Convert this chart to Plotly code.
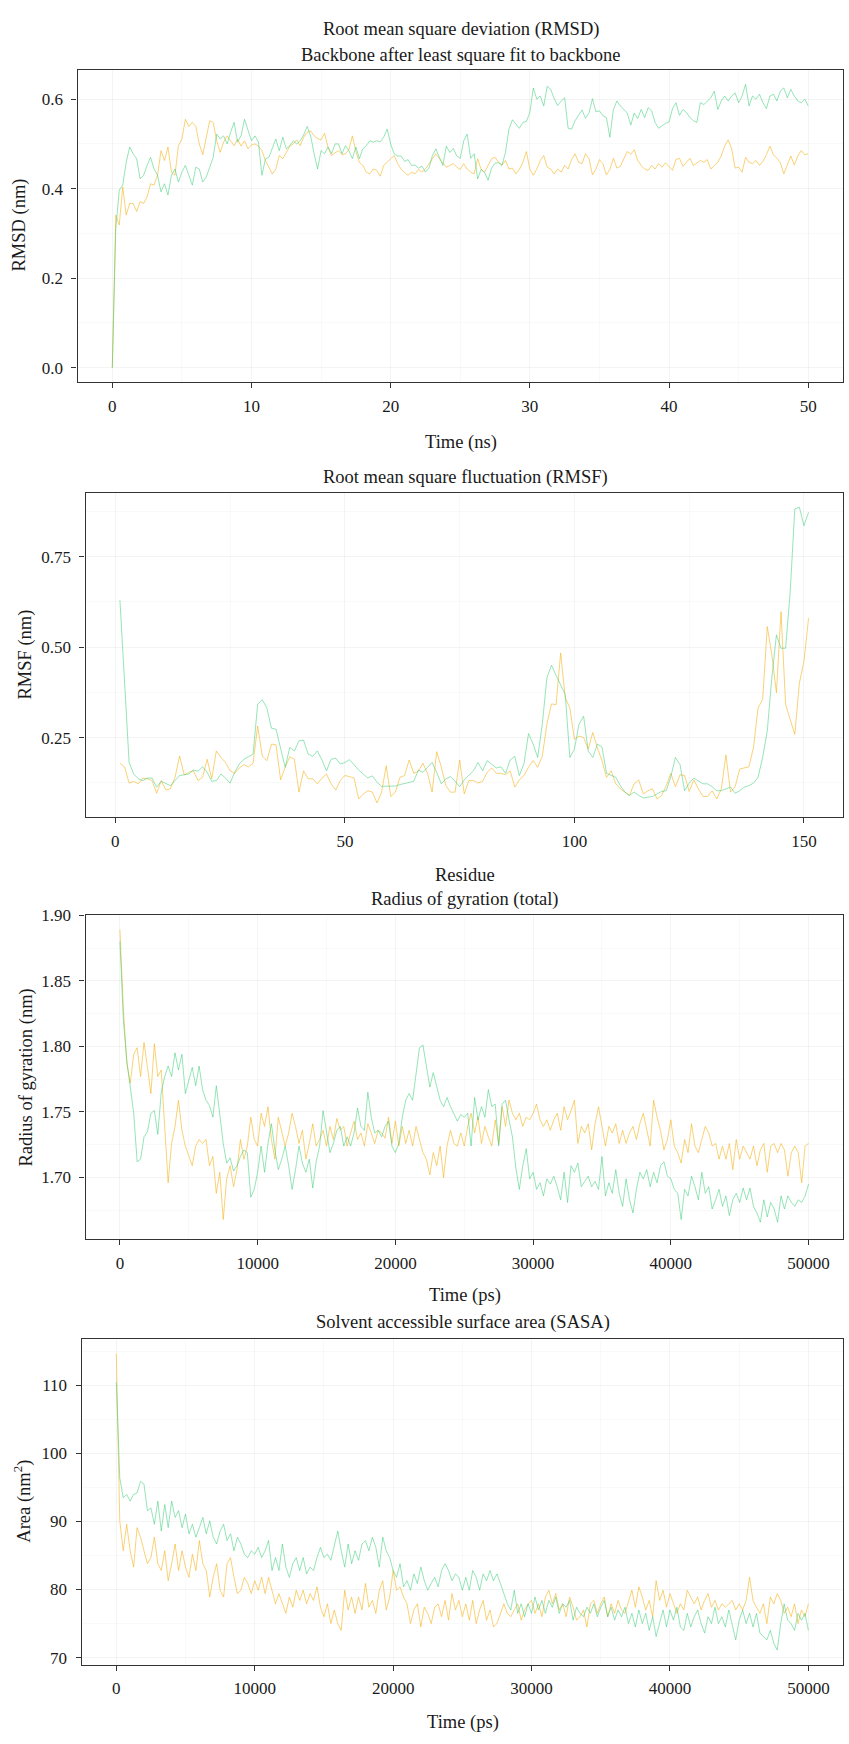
import numpy as np
import plotly.graph_objects as go

W, H = 849, 1744
FONT = "Liberation Serif"
TEXT_COLOR = "#1a1a1a"
FRAME = "#333333"
GREEN = "rgba(46,204,113,0.50)"
ORANGE = "rgba(245,180,30,0.60)"
GRID_MAJOR = "rgba(0,0,0,0.045)"
GRID_MINOR = "rgba(0,0,0,0.025)"

# ---------------------------------------------------------------- data
# sampling: every 0.25 ns (250 ps) over 50 ns
time_ns = np.arange(201) * 0.25
time_ps = np.arange(201) * 250
residue = np.arange(1, 152)

rmsd_green = [
    0.000, 0.310, 0.397, 0.408, 0.459, 0.493, 0.478, 0.467, 0.422, 0.430,
    0.452, 0.470, 0.444, 0.430, 0.393, 0.411, 0.386, 0.430, 0.444, 0.415,
    0.437, 0.452, 0.430, 0.408, 0.448, 0.444, 0.415, 0.426, 0.448, 0.470,
    0.522, 0.511, 0.518, 0.500, 0.526, 0.548, 0.504, 0.518, 0.555, 0.529,
    0.507, 0.518, 0.504, 0.430, 0.466, 0.470, 0.493, 0.511, 0.485, 0.515,
    0.489, 0.496, 0.507, 0.500, 0.507, 0.520, 0.539, 0.518, 0.478, 0.444,
    0.485, 0.478, 0.493, 0.478, 0.500, 0.500, 0.478, 0.496, 0.485, 0.467,
    0.493, 0.467, 0.489, 0.496, 0.507, 0.504, 0.507, 0.505, 0.515, 0.533,
    0.500, 0.478, 0.473, 0.473, 0.461, 0.465, 0.452, 0.453, 0.446, 0.450,
    0.437, 0.446, 0.474, 0.489, 0.470, 0.452, 0.495, 0.481, 0.490, 0.473,
    0.468, 0.507, 0.522, 0.468, 0.478, 0.422, 0.443, 0.436, 0.419, 0.446,
    0.457, 0.458, 0.452, 0.481, 0.533, 0.554, 0.544, 0.535, 0.548, 0.550,
    0.570, 0.625, 0.600, 0.607, 0.585, 0.629, 0.622, 0.601, 0.586, 0.596,
    0.603, 0.535, 0.533, 0.552, 0.564, 0.576, 0.557, 0.569, 0.601, 0.572,
    0.574, 0.563, 0.559, 0.515, 0.576, 0.596, 0.585, 0.576, 0.569, 0.542,
    0.569, 0.557, 0.577, 0.559, 0.581, 0.574, 0.548, 0.535, 0.541, 0.546,
    0.549, 0.579, 0.592, 0.564, 0.577, 0.570, 0.559, 0.552, 0.548, 0.592,
    0.588, 0.596, 0.603, 0.618, 0.577, 0.596, 0.607, 0.596, 0.607, 0.614,
    0.592, 0.607, 0.633, 0.585, 0.607, 0.600, 0.611, 0.592, 0.579, 0.607,
    0.611, 0.596, 0.618, 0.625, 0.603, 0.622, 0.607, 0.596, 0.592, 0.600,
    0.585,
]
rmsd_orange = [
    0.000, 0.341, 0.319, 0.404, 0.341, 0.367, 0.367, 0.349, 0.371, 0.367,
    0.382, 0.411, 0.408, 0.430, 0.485, 0.463, 0.493, 0.437, 0.430, 0.496,
    0.511, 0.555, 0.539, 0.548, 0.539, 0.500, 0.476, 0.511, 0.552, 0.548,
    0.507, 0.481, 0.504, 0.518, 0.507, 0.496, 0.511, 0.495, 0.507, 0.489,
    0.498, 0.500, 0.495, 0.485, 0.463, 0.448, 0.433, 0.444, 0.474, 0.467,
    0.481, 0.495, 0.500, 0.509, 0.496, 0.515, 0.526, 0.529, 0.518, 0.512,
    0.509, 0.524, 0.493, 0.474, 0.480, 0.485, 0.476, 0.478, 0.487, 0.518,
    0.483, 0.459, 0.452, 0.437, 0.433, 0.444, 0.441, 0.428, 0.452, 0.459,
    0.467, 0.474, 0.456, 0.444, 0.436, 0.430, 0.437, 0.433, 0.443, 0.437,
    0.444, 0.456, 0.467, 0.478, 0.467, 0.458, 0.448, 0.452, 0.456, 0.448,
    0.443, 0.456, 0.444, 0.437, 0.433, 0.467, 0.443, 0.437, 0.453, 0.467,
    0.470, 0.459, 0.453, 0.463, 0.444, 0.446, 0.433, 0.443, 0.459, 0.483,
    0.444, 0.430, 0.444, 0.463, 0.474, 0.448, 0.444, 0.433, 0.444, 0.437,
    0.452, 0.444, 0.465, 0.478, 0.459, 0.456, 0.478, 0.467, 0.431, 0.444,
    0.465, 0.456, 0.431, 0.443, 0.468, 0.446, 0.450, 0.465, 0.483, 0.477,
    0.487, 0.463, 0.452, 0.444, 0.441, 0.452, 0.444, 0.456, 0.448, 0.458,
    0.450, 0.441, 0.465, 0.468, 0.450, 0.459, 0.468, 0.452, 0.458, 0.463,
    0.459, 0.465, 0.444, 0.452, 0.459, 0.473, 0.495, 0.509, 0.489, 0.446,
    0.448, 0.437, 0.470, 0.459, 0.456, 0.463, 0.452, 0.461, 0.476, 0.495,
    0.476, 0.468, 0.458, 0.433, 0.452, 0.473, 0.453, 0.473, 0.485, 0.476,
    0.478,
]

rmsf_green = [
    0.630, 0.400, 0.181, 0.149, 0.136, 0.131, 0.138, 0.138, 0.113, 0.129,
    0.122, 0.117, 0.131, 0.145, 0.147, 0.149, 0.160, 0.157, 0.169, 0.154,
    0.129, 0.131, 0.149, 0.138, 0.124, 0.154, 0.177, 0.190, 0.197, 0.204,
    0.342, 0.355, 0.332, 0.276, 0.273, 0.223, 0.168, 0.223, 0.213, 0.241,
    0.243, 0.204, 0.198, 0.213, 0.188, 0.158, 0.190, 0.193, 0.177, 0.181,
    0.189, 0.175, 0.160, 0.149, 0.138, 0.144, 0.126, 0.115, 0.115, 0.114,
    0.116, 0.120, 0.124, 0.126, 0.129, 0.160, 0.154, 0.168, 0.181, 0.154,
    0.122, 0.136, 0.142, 0.129, 0.114, 0.133, 0.147, 0.158, 0.181, 0.158,
    0.186, 0.175, 0.166, 0.169, 0.151, 0.188, 0.198, 0.145, 0.177, 0.261,
    0.232, 0.195, 0.287, 0.415, 0.450, 0.422, 0.397, 0.369, 0.195, 0.218,
    0.287, 0.309, 0.213, 0.195, 0.232, 0.224, 0.151, 0.145, 0.140, 0.117,
    0.099, 0.090, 0.099, 0.090, 0.083, 0.085, 0.087, 0.094, 0.101, 0.103,
    0.142, 0.195, 0.175, 0.103, 0.124, 0.138, 0.129, 0.122, 0.122, 0.114,
    0.103, 0.103, 0.108, 0.113, 0.096, 0.103, 0.113, 0.117, 0.124, 0.140,
    0.195, 0.268, 0.415, 0.534, 0.497, 0.497, 0.653, 0.882, 0.887, 0.836,
    0.873,
]
rmsf_orange = [
    0.179, 0.169, 0.124, 0.129, 0.122, 0.138, 0.136, 0.131, 0.096, 0.131,
    0.105, 0.108, 0.140, 0.199, 0.147, 0.154, 0.158, 0.131, 0.140, 0.190,
    0.136, 0.213, 0.195, 0.181, 0.158, 0.151, 0.166, 0.175, 0.169, 0.179,
    0.282, 0.199, 0.186, 0.232, 0.230, 0.133, 0.168, 0.197, 0.190, 0.099,
    0.158, 0.136, 0.136, 0.122, 0.138, 0.149, 0.122, 0.105, 0.131, 0.145,
    0.142, 0.138, 0.080, 0.094, 0.103, 0.099, 0.069, 0.099, 0.172, 0.087,
    0.099, 0.140, 0.145, 0.188, 0.151, 0.157, 0.179, 0.151, 0.099, 0.211,
    0.168, 0.117, 0.099, 0.099, 0.188, 0.094, 0.131, 0.131, 0.124, 0.129,
    0.154, 0.166, 0.151, 0.151, 0.147, 0.158, 0.113, 0.133, 0.145, 0.168,
    0.186, 0.168, 0.199, 0.287, 0.343, 0.341, 0.484, 0.360, 0.332, 0.245,
    0.254, 0.250, 0.218, 0.264, 0.222, 0.186, 0.140, 0.158, 0.122, 0.108,
    0.099, 0.090, 0.122, 0.133, 0.094, 0.103, 0.108, 0.080, 0.090, 0.117,
    0.151, 0.114, 0.147, 0.145, 0.101, 0.133, 0.108, 0.087, 0.087, 0.103,
    0.080, 0.108, 0.202, 0.099, 0.114, 0.163, 0.166, 0.169, 0.222, 0.332,
    0.355, 0.557, 0.479, 0.374, 0.598, 0.341, 0.300, 0.259, 0.401, 0.461,
    0.580,
]

rg_green = [
    1.880, 1.820, 1.789, 1.769, 1.749, 1.712, 1.714, 1.731, 1.735, 1.749,
    1.751, 1.733, 1.765, 1.777, 1.785, 1.777, 1.795, 1.782, 1.794, 1.764,
    1.773, 1.784, 1.770, 1.785, 1.767, 1.759, 1.755, 1.746, 1.770, 1.749,
    1.726, 1.711, 1.715, 1.705, 1.709, 1.716, 1.721, 1.719, 1.685, 1.691,
    1.704, 1.724, 1.704, 1.726, 1.741, 1.721, 1.706, 1.714, 1.724, 1.709,
    1.691, 1.706, 1.724, 1.711, 1.704, 1.714, 1.692, 1.712, 1.724, 1.751,
    1.734, 1.719, 1.726, 1.736, 1.739, 1.724, 1.731, 1.724, 1.734, 1.753,
    1.739, 1.736, 1.765, 1.746, 1.734, 1.736, 1.731, 1.739, 1.743, 1.724,
    1.719, 1.726, 1.746, 1.759, 1.764, 1.759, 1.779, 1.799, 1.801, 1.784,
    1.769, 1.780, 1.769, 1.759, 1.754, 1.761, 1.754, 1.748, 1.743, 1.748,
    1.746, 1.749, 1.724, 1.761, 1.744, 1.754, 1.746, 1.767, 1.754, 1.756,
    1.724, 1.756, 1.759, 1.744, 1.731, 1.707, 1.691, 1.709, 1.722, 1.699,
    1.704, 1.691, 1.696, 1.686, 1.699, 1.695, 1.701, 1.693, 1.683, 1.704,
    1.681, 1.709, 1.704, 1.711, 1.693, 1.697, 1.701, 1.693, 1.697, 1.691,
    1.716, 1.686, 1.696, 1.688, 1.706, 1.688, 1.678, 1.699, 1.683, 1.673,
    1.691, 1.704, 1.699, 1.706, 1.693, 1.704, 1.696, 1.709, 1.712, 1.701,
    1.699, 1.691, 1.688, 1.668, 1.691, 1.686, 1.701, 1.693, 1.683, 1.704,
    1.688, 1.693, 1.676, 1.683, 1.691, 1.678, 1.686, 1.671, 1.683, 1.688,
    1.681, 1.692, 1.683, 1.692, 1.678, 1.673, 1.666, 1.683, 1.670, 1.681,
    1.676, 1.666, 1.686, 1.676, 1.686, 1.681, 1.678, 1.683, 1.681, 1.686,
    1.695,
]
rg_orange = [
    1.889, 1.829, 1.787, 1.772, 1.794, 1.799, 1.777, 1.803, 1.784, 1.764,
    1.802, 1.777, 1.782, 1.736, 1.696, 1.726, 1.739, 1.759, 1.736, 1.724,
    1.716, 1.709, 1.724, 1.729, 1.726, 1.729, 1.709, 1.716, 1.688, 1.704,
    1.668, 1.699, 1.709, 1.693, 1.706, 1.729, 1.714, 1.724, 1.746, 1.729,
    1.724, 1.749, 1.739, 1.754, 1.729, 1.714, 1.746, 1.734, 1.724, 1.734,
    1.749, 1.739, 1.726, 1.736, 1.714, 1.726, 1.741, 1.724, 1.729, 1.736,
    1.724, 1.739, 1.729, 1.745, 1.736, 1.739, 1.724, 1.734, 1.743, 1.729,
    1.734, 1.724, 1.741, 1.734, 1.726, 1.736, 1.734, 1.730, 1.746, 1.726,
    1.743, 1.724, 1.739, 1.726, 1.736, 1.724, 1.739, 1.729, 1.719, 1.714,
    1.702, 1.719, 1.709, 1.724, 1.700, 1.724, 1.736, 1.726, 1.724, 1.734,
    1.724, 1.739, 1.749, 1.734, 1.746, 1.726, 1.739, 1.731, 1.724, 1.744,
    1.726, 1.754, 1.739, 1.759, 1.749, 1.744, 1.749, 1.739, 1.746, 1.744,
    1.749, 1.756, 1.744, 1.739, 1.744, 1.736, 1.744, 1.749, 1.736, 1.754,
    1.744, 1.751, 1.759, 1.726, 1.739, 1.734, 1.741, 1.721, 1.741, 1.754,
    1.739, 1.724, 1.739, 1.734, 1.741, 1.726, 1.736, 1.726, 1.734, 1.739,
    1.729, 1.741, 1.749, 1.736, 1.724, 1.759, 1.746, 1.736, 1.721, 1.729,
    1.744, 1.724, 1.719, 1.711, 1.729, 1.719, 1.741, 1.724, 1.719, 1.729,
    1.739, 1.734, 1.724, 1.726, 1.714, 1.724, 1.714, 1.726, 1.706, 1.729,
    1.714, 1.724, 1.719, 1.714, 1.724, 1.709, 1.721, 1.726, 1.704, 1.724,
    1.726, 1.719, 1.726, 1.721, 1.701, 1.719, 1.724, 1.719, 1.696, 1.724,
    1.726,
]

sasa_green = [
    110.5, 96.4, 93.5, 94.0, 93.0, 94.0, 94.2, 95.9, 95.5, 91.6,
    92.0, 89.6, 93.0, 88.6, 92.5, 89.1, 93.0, 90.6, 91.6, 89.1,
    91.1, 88.2, 89.6, 87.7, 89.1, 90.6, 88.2, 90.1, 87.7, 86.7,
    88.6, 89.6, 87.2, 88.2, 85.7, 87.7, 86.7, 85.2, 84.7, 85.7,
    85.2, 86.2, 84.7, 85.7, 87.2, 82.8, 84.7, 82.8, 86.7, 83.3,
    81.8, 83.8, 84.7, 82.8, 84.7, 82.3, 83.3, 82.8, 84.7, 86.2,
    84.7, 85.2, 84.3, 86.7, 88.6, 85.7, 83.3, 86.7, 83.8, 85.7,
    84.3, 86.7, 87.2, 85.7, 87.7, 86.2, 83.3, 87.7, 85.7, 84.7,
    82.8, 81.8, 83.8, 80.4, 81.3, 79.9, 82.3, 80.9, 83.3, 81.3,
    79.9, 80.9, 81.8, 80.4, 82.8, 83.8, 82.8, 81.3, 82.3, 81.8,
    79.9, 81.8, 79.9, 82.8, 81.8, 79.9, 82.3, 81.3, 82.8, 81.3,
    82.3, 80.9, 79.4, 77.9, 77.0, 79.9, 76.5, 77.9, 76.0, 77.9,
    76.5, 78.9, 77.0, 78.4, 76.5, 78.4, 77.4, 78.9, 76.5, 77.9,
    77.4, 78.4, 75.5, 77.4, 76.5, 76.0, 77.4, 76.5, 77.9, 76.0,
    77.4, 78.4, 76.0, 77.4, 75.5, 77.0, 76.0, 77.4, 75.0, 76.5,
    74.5, 77.0, 75.0, 76.5, 74.0, 76.0, 73.1, 75.0, 77.0, 74.5,
    77.0, 75.5, 77.4, 74.5, 74.0, 76.5, 74.5, 76.0, 77.0, 75.0,
    73.6, 76.0, 75.0, 77.4, 75.0, 76.0, 74.5, 77.0, 75.0, 72.6,
    75.5, 77.0, 75.0, 76.5, 74.5, 76.5, 73.6, 73.1, 72.6, 74.0,
    72.1, 71.1, 75.0, 77.9, 75.5, 75.0, 74.0, 76.5, 75.5, 76.5,
    74.0,
]
sasa_orange = [
    114.7, 90.1, 85.7, 89.6, 85.7, 83.3, 89.1, 87.7, 85.7, 83.8,
    84.7, 87.7, 83.8, 82.8, 85.7, 81.3, 83.8, 86.7, 82.8, 85.7,
    83.3, 81.8, 85.2, 82.8, 87.2, 83.8, 82.8, 78.9, 81.8, 83.8,
    79.9, 78.9, 83.8, 84.7, 81.8, 79.4, 79.9, 81.8, 80.9, 79.4,
    81.3, 79.9, 81.8, 79.4, 81.8, 79.9, 77.9, 79.4, 77.9, 76.5,
    78.9, 77.4, 79.9, 78.4, 79.9, 77.9, 79.4, 78.4, 80.4, 77.4,
    76.0, 77.9, 75.0, 77.0, 75.0, 74.0, 79.9, 77.0, 78.9, 76.5,
    78.9, 77.0, 80.9, 77.4, 78.4, 76.5, 79.9, 81.3, 77.0, 78.9,
    82.8, 79.9, 80.4, 78.9, 77.9, 75.0, 77.0, 77.9, 74.5, 77.4,
    76.5, 75.0, 77.4, 77.9, 76.0, 78.4, 75.5, 79.4, 77.0, 78.4,
    76.0, 77.9, 75.5, 78.4, 75.0, 77.0, 78.4, 75.5, 77.0, 74.5,
    75.0, 76.5, 77.9, 76.5, 76.0, 77.0, 77.9, 75.5, 77.0, 77.9,
    78.4, 76.5, 77.9, 76.0, 78.9, 79.9, 77.9, 79.4, 77.0, 77.9,
    76.0, 78.9, 77.4, 75.5, 76.0, 77.0, 74.5, 77.9, 78.4, 76.5,
    77.9, 78.9, 76.0, 77.9, 76.5, 78.4, 77.0, 76.5, 78.4, 79.9,
    77.4, 80.4, 78.9, 77.0, 78.4, 76.0, 81.3, 78.4, 79.9, 77.4,
    79.4, 77.9, 76.5, 77.9, 77.0, 79.9, 78.9, 77.9, 78.9, 77.0,
    78.4, 79.4, 77.4, 78.4, 77.0, 77.9, 77.4, 77.9, 78.4, 77.0,
    77.9, 77.0, 78.4, 81.8, 78.4, 77.4, 76.5, 77.9, 75.0, 78.9,
    77.9, 79.4, 78.4, 76.5, 77.4, 76.0, 77.9, 75.0, 77.0, 76.0,
    77.9,
]

# tick labels
rmsd_yticks = [0.0, 0.2, 0.4, 0.6]
rmsd_ytext = ["0.0", "0.2", "0.4", "0.6"]
ns_ticks = [0, 10, 20, 30, 40, 50]
res_ticks = [0, 50, 100, 150]
rmsf_yticks = [0.25, 0.50, 0.75]
rmsf_ytext = ["0.25", "0.50", "0.75"]
ps_ticks = [0, 10000, 20000, 30000, 40000, 50000]
rg_yticks = [1.70, 1.75, 1.80, 1.85, 1.90]
rg_ytext = ["1.70", "1.75", "1.80", "1.85", "1.90"]
sasa_yticks = [70, 80, 90, 100, 110]

# ---------------------------------------------------------------- layout
# panel boxes in pixels: left, top, right, bottom
panels = [
    dict(box=(77.5, 61.5, 843, 375.5), xr=[-2.5, 52.5], yr=[-0.0317, 0.665],
         xt=ns_ticks, xtt=[str(v) for v in ns_ticks], xm=[5, 15, 25, 35, 45],
         yt=rmsd_yticks, ytt=rmsd_ytext, ym=[0.1, 0.3, 0.5],
         x=time_ns, g=rmsd_green, o=rmsd_orange),
    dict(box=(85.5, 487.5, 843, 813.7), xr=[-6.5, 158.5], yr=[0.030, 0.926],
         xt=res_ticks, xtt=[str(v) for v in res_ticks], xm=[25, 75, 125],
         yt=rmsf_yticks, ytt=rmsf_ytext, ym=[0.125, 0.375, 0.625, 0.875],
         x=residue, g=rmsf_green, o=rmsf_orange),
    dict(box=(85.5, 912.5, 843, 1238.7), xr=[-2500, 52500], yr=[1.653, 1.900],
         xt=ps_ticks, xtt=[str(v) for v in ps_ticks], xm=[5000, 15000, 25000, 35000, 45000],
         yt=rg_yticks, ytt=rg_ytext, ym=[1.675, 1.725, 1.775, 1.825, 1.875],
         x=time_ps, g=rg_green, o=rg_orange),
    dict(box=(81.7, 1339.5, 843, 1667.3), xr=[-2500, 52500], yr=[68.93, 116.8],
         xt=ps_ticks, xtt=[str(v) for v in ps_ticks], xm=[5000, 15000, 25000, 35000, 45000],
         yt=sasa_yticks, ytt=[str(v) for v in sasa_yticks], ym=[75, 85, 95, 105, 115],
         x=time_ps, g=sasa_green, o=sasa_orange),
]

fig = go.Figure()
layout = dict(
    width=W, height=H, margin=dict(l=0, r=0, t=0, b=0),
    paper_bgcolor="white", plot_bgcolor="white", showlegend=False,
    font=dict(family=FONT, size=17, color=TEXT_COLOR),
)

tickfont = dict(family=FONT, size=17, color=TEXT_COLOR)
for i, p in enumerate(panels, start=1):
    l, t, r, b = p["box"]
    sx = "" if i == 1 else str(i)
    xa, ya = "x" + sx, "y" + sx
    fig.add_trace(go.Scatter(x=p["x"], y=p["o"], mode="lines", xaxis=xa, yaxis=ya,
                             line=dict(color=ORANGE, width=1), hoverinfo="skip"))
    fig.add_trace(go.Scatter(x=p["x"], y=p["g"], mode="lines", xaxis=xa, yaxis=ya,
                             line=dict(color=GREEN, width=1), hoverinfo="skip"))
    common = dict(showline=True, mirror=True, linecolor=FRAME, linewidth=1.4,
                  ticks="outside", ticklen=5, tickwidth=1, tickcolor=FRAME,
                  tickfont=tickfont, showgrid=True, gridcolor=GRID_MAJOR, gridwidth=1,
                  zeroline=False)
    layout["xaxis" + sx] = dict(
        common, domain=[l / W, r / W], anchor=ya, range=p["xr"], ticklabelstandoff=3,
        tickmode="array", tickvals=p["xt"], ticktext=p["xtt"],
        minor=dict(showgrid=True, gridcolor=GRID_MINOR, tickvals=p["xm"], ticks=""))
    layout["yaxis" + sx] = dict(
        common, domain=[1 - b / H, 1 - t / H], anchor=xa, range=p["yr"], ticklabelstandoff=5,
        tickmode="array", tickvals=p["yt"], ticktext=p["ytt"],
        minor=dict(showgrid=True, gridcolor=GRID_MINOR, tickvals=p["ym"], ticks=""))

fig.update_layout(**layout)


def label(text, x_px, y_px, angle=0, size=18.5):
    fig.add_annotation(text=text, x=x_px / W, y=1 - y_px / H, xref="paper", yref="paper",
                       showarrow=False, textangle=angle, xanchor="center", yanchor="middle",
                       font=dict(family=FONT, size=size, color=TEXT_COLOR))


# panel titles
label("Root mean square deviation (RMSD)", 461, 21)
label("Backbone after least square fit to backbone", 461, 46)
label("Root mean square fluctuation (RMSF)", 465, 472)
label("Radius of gyration (total)", 465, 897)
label("Solvent accessible surface area (SASA)", 463, 1323)
# x-axis titles
label("Time (ns)", 461, 437)
label("Residue", 465, 872)
label("Time (ps)", 465, 1295)
label("Time (ps)", 463, 1725)
# y-axis titles
label("RMSD (nm)", 19, 218, angle=-90)
label("RMSF (nm)", 26, 650, angle=-90)
label("Radius of gyration (nm)", 27, 1076, angle=-90)
label("Area (nm<sup>2</sup>)", 23, 1503, angle=-90)

fig.write_html("out.html")
